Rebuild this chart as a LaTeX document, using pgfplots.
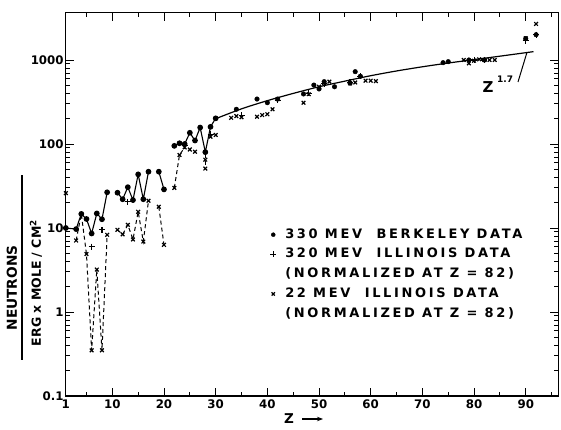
\documentclass[border=0pt]{standalone}
\usepackage{pgfplots}
\pgfplotsset{compat=1.18}
\usepackage{fontspec}
\setmainfont{DejaVu Sans}
\newfontfamily\lgfont{DejaVu Sans}[LetterSpace=20.5]
\usetikzlibrary{arrows.meta}
\begin{document}
\begin{tikzpicture}[x=1pt,y=1pt]
\begin{axis}[
  at={(65.8pt,34pt)}, anchor=south west,
  scale only axis, width=492.5pt, height=383.3pt,
  xmin=1, xmax=96.3, ymin=0.1, ymax=3656,
  ymode=log,
  axis line style={line width=1.3pt},
  every tick/.style={line width=0.9pt, black},
  major tick length=8pt, minor tick length=4.5pt,
  xtick={1,10,20,30,40,50,60,70,80,90},
  xticklabels={1,10,20,30,40,50,60,70,80,90},
  minor xtick={5,15,25,35,45,55,65,75,85,95},
  ytick={0.1,1,10,100,1000},
  yticklabels={\raisebox{-8pt}{0.1},1,10,100,1000},
  tick label style={font=\bfseries\fontsize{11.8}{14}\selectfont},
  yticklabel style={inner xsep=2pt},
  unbounded coords=jump,
  clip=false,
  legend style={at={(0.4035,0.4383)}, anchor=north west, draw=none, fill=none,
    inner sep=0pt, row sep=6.75pt, column sep=9pt,
    font=\lgfont\bfseries\fontsize{13}{14}\selectfont,
    nodes={inner sep=0pt, text height=10pt, text depth=3pt}},
  legend cell align=left,
]
% legend images
\addlegendimage{only marks, mark=*, mark size=2pt}
\addlegendentry{330 MEV\ \ BERKELEY DATA}
\addlegendimage{only marks, mark=+, mark size=3pt, line width=1.1pt}
\addlegendentry{320 MEV\ \ ILLINOIS DATA}
\addlegendimage{empty legend}
\addlegendentry{(NORMALIZED AT Z = 82)}
\addlegendimage{only marks, mark=x, mark size=2.3pt, line width=1.2pt}
\addlegendentry{22 MEV\ \ ILLINOIS DATA}
\addlegendimage{empty legend}
\addlegendentry{(NORMALIZED AT Z = 82)}

% Z^1.7 curve
\addplot[line width=1.2pt, smooth, forget plot] coordinates {
(30,200) (35,262) (40,328) (45,400) (50,480) (55,560) (60,650) (65,740)
(70,830) (75,920) (80,1010) (85,1110) (91.5,1257)};

% 22 MeV Illinois, dashed segments
\addplot[line width=1pt, dash pattern=on 4pt off 3pt, mark=x, mark size=2.6pt,
  mark options={solid, line width=1.2pt}, forget plot] coordinates {
(3,7.1) (4,14.7) (5,4.9) (6,0.35) (7,3.2) (8,0.35) (9,8.3) (10,nan)
(11,9.5) (12,8.4) (13,10.9) (14,7.3) (15,15.6) (16,6.9) (17,21.1) (18,nan)
(19,17.9) (20,6.3) (21,nan)
(22,30) (23,74) (24,91)};
\addplot[line width=1pt, dash pattern=on 4pt off 3pt, forget plot] coordinates {
(28,77) (28,50)};
\addplot[only marks, mark=x, mark size=2.6pt, mark options={line width=1.2pt}, forget plot] coordinates {
(1,26) (25,86) (26,81) (28,65) (28,51) (29,122) (30,128)
(33,205) (34,215) (35,208) (38,211) (39,221) (40,226) (41,259) (42,343)
(47,310) (48,392) (50,481) (51,530) (52,552) (56,527) (57,540) (59,567) (60,567) (61,560)
(78,1000) (79,912) (80,981) (81,1018) (82,1000) (83,1000) (84,1000) (90,1811) (92,2686)};

% Berkeley, solid segments
\addplot[line width=1.1pt, mark=*, mark size=2.3pt, forget plot] coordinates {
(1,10) (3,9.7) (4,14.7) (5,12.8) (6,8.6) (7,14.9) (8,12.7) (9,26.6) (10,nan)
(11,26.3) (12,22) (13,30.6) (14,21.5) (15,43.5) (16,22) (17,46.8) (18,nan)
(19,46.8) (20,28.8) (21,nan)
(22,95) (23,102) (24,100) (25,136) (26,110) (27,157) (28,80) (29,160) (30,202)};
\addplot[only marks, mark=*, mark size=2.3pt, forget plot] coordinates {
(34,259) (38,343) (40,310) (42,343) (47,394) (49,503) (50,452) (51,552) (53,480)
(56,530) (57,726) (58,640) (74,929) (75,955) (79,1000) (82,1000) (90,1800) (92,2000)};

% 320 MeV Illinois
\addplot[only marks, mark=+, mark size=3pt, mark options={line width=1.1pt}, forget plot] coordinates {
(6,6.0) (8,9.5) (13,20.6) (24,95) (29,130) (35,220) (42,330) (48,400) (51,520)
(56,540) (58,640) (80,1000) (82,1000) (90,1700) (92,2000)};

% Z^1.7 annotation
\node[font=\bfseries\fontsize{15}{15}\selectfont] at (axis cs:82.7,478) {Z};
\node[font=\bfseries\fontsize{9}{9}\selectfont] at (axis cs:86,594) {1.7};
\draw[line width=1pt] (axis cs:88.5,547) -- (axis cs:90.2,1211);
\end{axis}
% y label
\node[rotate=90, font=\bfseries\fontsize{13.7}{14}\selectfont] at (12,142) {NEUTRONS};
\draw[line width=1.2pt] (22,70) -- (22,255);
\node[rotate=90, font=\bfseries\fontsize{12.5}{14}\selectfont] at (36,147) {ERG x MOLE / CM$^{\mathbf 2}$};
% x label
\node[font=\bfseries\fontsize{13.5}{14}\selectfont] at (289,11) {Z};
\draw[line width=1.1pt, -{Stealth[length=6pt]}] (302,11) -- (323,11);
\pgfresetboundingbox
\path[use as bounding box] (0,0) rectangle (561,430);
\end{tikzpicture}
\end{document}
